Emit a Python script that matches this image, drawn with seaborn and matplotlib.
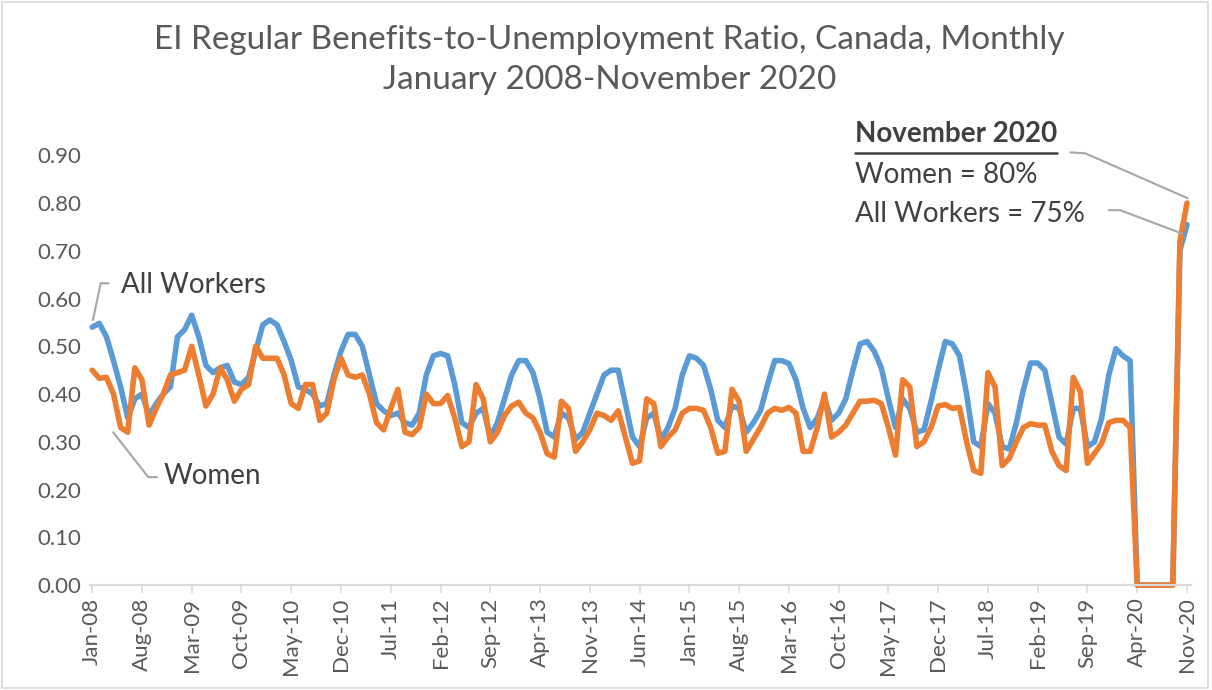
import matplotlib
matplotlib.use('Agg')
import matplotlib.pyplot as plt
import seaborn as sns
import pandas as pd
import numpy as np
from matplotlib.patches import Rectangle

# Monthly ratios, Jan 2008 - Nov 2020
all_workers = [
    0.54, 0.548, 0.52, 0.47, 0.415, 0.35, 0.39, 0.40, 0.355, 0.38, 0.40, 0.415,      # 2008
    0.52, 0.535, 0.565, 0.52, 0.46, 0.445, 0.455, 0.46, 0.425, 0.42, 0.435, 0.49,    # 2009
    0.545, 0.555, 0.545, 0.51, 0.47, 0.415, 0.41, 0.40, 0.375, 0.38, 0.44, 0.49,     # 2010
    0.525, 0.525, 0.50, 0.44, 0.38, 0.365, 0.355, 0.36, 0.34, 0.335, 0.36, 0.44,     # 2011
    0.48, 0.485, 0.48, 0.42, 0.34, 0.33, 0.36, 0.37, 0.31, 0.34, 0.39, 0.44,         # 2012
    0.47, 0.47, 0.445, 0.39, 0.32, 0.31, 0.36, 0.35, 0.305, 0.32, 0.36, 0.40,        # 2013
    0.44, 0.45, 0.45, 0.38, 0.31, 0.29, 0.35, 0.36, 0.305, 0.33, 0.37, 0.44,         # 2014
    0.48, 0.475, 0.46, 0.41, 0.345, 0.33, 0.375, 0.37, 0.32, 0.34, 0.365, 0.42,      # 2015
    0.47, 0.47, 0.464, 0.43, 0.37, 0.33, 0.35, 0.39, 0.345, 0.36, 0.39, 0.45,        # 2016
    0.505, 0.51, 0.49, 0.455, 0.39, 0.33, 0.39, 0.37, 0.32, 0.325, 0.385, 0.45,      # 2017
    0.51, 0.505, 0.48, 0.40, 0.30, 0.29, 0.38, 0.36, 0.29, 0.285, 0.34, 0.41,        # 2018
    0.465, 0.465, 0.45, 0.38, 0.31, 0.295, 0.37, 0.37, 0.29, 0.30, 0.35, 0.44,       # 2019
    0.495, 0.48, 0.47, 0.0, 0.0, 0.0, 0.0, 0.0, 0.0, 0.70, 0.755,                    # 2020
]
women = [
    0.45, 0.433, 0.435, 0.40, 0.33, 0.32, 0.455, 0.43, 0.335, 0.37, 0.40, 0.44,      # 2008
    0.445, 0.45, 0.50, 0.44, 0.375, 0.40, 0.455, 0.43, 0.385, 0.41, 0.42, 0.50,      # 2009
    0.475, 0.475, 0.475, 0.44, 0.38, 0.37, 0.42, 0.42, 0.345, 0.36, 0.43, 0.475,     # 2010
    0.44, 0.435, 0.44, 0.40, 0.34, 0.325, 0.37, 0.41, 0.32, 0.315, 0.33, 0.40,       # 2011
    0.38, 0.38, 0.397, 0.35, 0.29, 0.30, 0.42, 0.39, 0.30, 0.32, 0.355, 0.375,       # 2012
    0.383, 0.36, 0.35, 0.32, 0.275, 0.268, 0.385, 0.37, 0.28, 0.30, 0.325, 0.36,     # 2013
    0.355, 0.345, 0.365, 0.31, 0.255, 0.26, 0.39, 0.38, 0.29, 0.31, 0.325, 0.36,     # 2014
    0.37, 0.37, 0.366, 0.33, 0.276, 0.28, 0.41, 0.385, 0.28, 0.305, 0.33, 0.36,      # 2015
    0.37, 0.366, 0.372, 0.36, 0.28, 0.28, 0.33, 0.40, 0.31, 0.32, 0.335, 0.36,       # 2016
    0.385, 0.385, 0.387, 0.38, 0.33, 0.272, 0.43, 0.415, 0.29, 0.30, 0.33, 0.375,    # 2017
    0.378, 0.37, 0.372, 0.30, 0.24, 0.234, 0.445, 0.415, 0.25, 0.265, 0.30, 0.33,    # 2018
    0.338, 0.335, 0.335, 0.28, 0.25, 0.24, 0.435, 0.405, 0.255, 0.276, 0.297, 0.34,  # 2019
    0.345, 0.345, 0.33, 0.0, 0.0, 0.0, 0.0, 0.0, 0.0, 0.72, 0.80,                    # 2020
]

tick_labels = ['Jan-08', 'Aug-08', 'Mar-09', 'Oct-09', 'May-10', 'Dec-10', 'Jul-11',
               'Feb-12', 'Sep-12', 'Apr-13', 'Nov-13', 'Jun-14', 'Jan-15', 'Aug-15',
               'Mar-16', 'Oct-16', 'May-17', 'Dec-17', 'Jul-18', 'Feb-19', 'Sep-19',
               'Apr-20', 'Nov-20']
y_ticks = [0.0, 0.1, 0.2, 0.3, 0.4, 0.5, 0.6, 0.7, 0.8, 0.9]

BLUE = '#5B9BD5'
ORANGE = '#ED7D31'
TEXT = '#404040'
AXIS_GREY = '#595959'
LINE_GREY = '#D9D9D9'
LEADER = '#A6A6A6'

months = pd.date_range('2008-01-01', periods=len(all_workers), freq='MS')
df = pd.DataFrame({
    'month': np.arange(len(months)),
    'label': months.strftime('%b-%y'),
    'All Workers': all_workers,
    'Women': women,
})

sns.set_theme(style='white')
plt.rcParams['font.family'] = ['Lato', 'DejaVu Sans']

fig = plt.figure(figsize=(12.12, 6.9), dpi=100)
ax = fig.add_axes([0.0743, 0.152, 0.908, 0.623])

sns.lineplot(data=df, x='month', y='All Workers', color=BLUE, linewidth=4.0, ax=ax, clip_on=False)
sns.lineplot(data=df, x='month', y='Women', color=ORANGE, linewidth=4.0, ax=ax, clip_on=False)

ax.set_xlim(-0.3, len(months) - 0.5)
ax.set_ylim(0, 0.9)

tick_pos = df.loc[df['label'].isin(tick_labels), 'month'].tolist()
ax.set_xticks(tick_pos)
ax.set_xticklabels(tick_labels, rotation=90, fontsize=16, color=AXIS_GREY)
ax.set_yticks(y_ticks)
ax.set_yticklabels([f'{v:.2f}' for v in y_ticks], fontsize=16, color=AXIS_GREY)
ax.tick_params(axis='x', length=6, width=1.2, color=LINE_GREY, pad=3, bottom=True)
ax.tick_params(axis='y', length=0, pad=6)
ax.set_xlabel('')
ax.set_ylabel('')

for side in ['left', 'top', 'right']:
    ax.spines[side].set_visible(False)
ax.spines['bottom'].set_color(LINE_GREY)
ax.spines['bottom'].set_linewidth(1.5)

# Series labels with leader lines
ax.text(4.0, 0.628, 'All Workers', fontsize=20, color=TEXT, va='center', ha='left')
ax.plot([2.3, 1.2, 0.1], [0.632, 0.632, 0.555], color=LEADER, lw=1.5, clip_on=False)
ax.text(10.0, 0.228, 'Women', fontsize=20, color=TEXT, va='center', ha='left')
ax.plot([2.95, 7.9, 9.1], [0.32, 0.226, 0.226], color=LEADER, lw=1.5, clip_on=False)

# November 2020 call-out
nov = ax.text(107.3, 0.945, 'November 2020', fontsize=20, fontweight='bold', color=TEXT,
              va='center', ha='left', clip_on=False)
ax.text(107.3, 0.858, 'Women = 80%', fontsize=20, color=TEXT, va='center', ha='left')
ax.text(107.3, 0.776, 'All Workers = 75%', fontsize=20, color=TEXT, va='center', ha='left')
ax.plot([137.6, 139.7, 154.1], [0.906, 0.904, 0.81], color=LEADER, lw=1.5, clip_on=False)
ax.plot([143.0, 144.6, 153.3], [0.785, 0.785, 0.736], color=LEADER, lw=1.5, clip_on=False)

fig.canvas.draw()
bb = nov.get_window_extent().transformed(ax.transData.inverted())
ax.plot([bb.x0, bb.x1], [0.904, 0.904], color=TEXT, lw=1.8, clip_on=False)

fig.text(0.503, 1 - 40 / 690, 'EI Regular Benefits-to-Unemployment Ratio, Canada, Monthly',
         fontsize=24, color=AXIS_GREY, ha='center', va='center')
fig.text(0.503, 1 - 80 / 690, 'January 2008-November 2020',
         fontsize=24, color=AXIS_GREY, ha='center', va='center')

fig.patches.append(Rectangle((0.002, 0.003), 0.995, 0.994, transform=fig.transFigure,
                             fill=False, edgecolor=LINE_GREY, lw=1.2))

fig.savefig('out.png', dpi=100, facecolor='white')
